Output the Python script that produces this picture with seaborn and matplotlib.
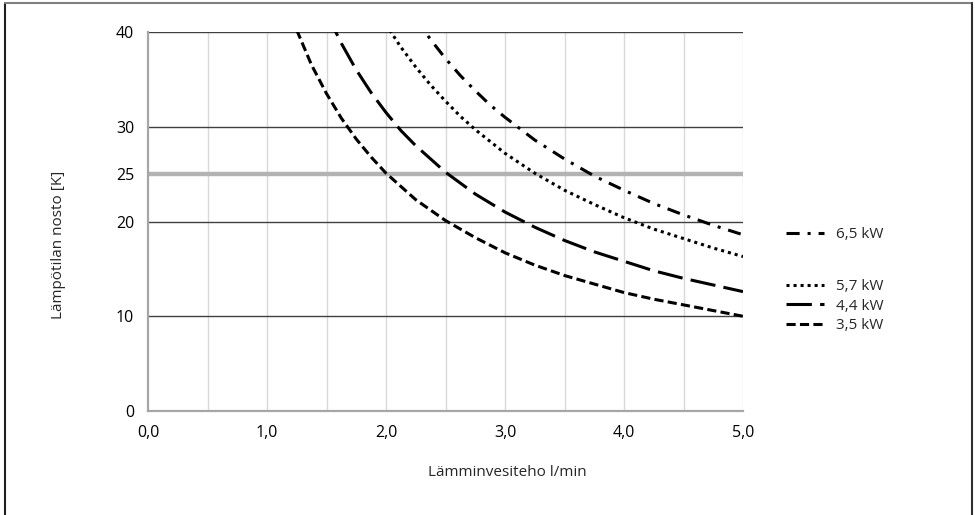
import matplotlib
matplotlib.use("Agg")
import matplotlib.pyplot as plt
from matplotlib.lines import Line2D
import seaborn as sns

# Lämpötilan nosto [K] luettuna kuvasta eri virtaamilla (l/min)
flow_35 = [1.25, 1.375, 1.5, 1.625, 1.75, 1.875, 2.0, 2.25, 2.5, 2.75, 3.0, 3.25, 3.5, 3.75, 4.0, 4.25, 4.5, 4.75, 5.0]
rise_35 = [40.2, 36.5, 33.5, 30.9, 28.7, 26.8, 25.1, 22.3, 20.1, 18.3, 16.7, 15.4, 14.3, 13.4, 12.5, 11.8, 11.2, 10.6, 10.0]

flow_44 = [1.5, 1.625, 1.75, 1.875, 2.0, 2.125, 2.25, 2.5, 2.75, 3.0, 3.25, 3.5, 3.75, 4.0, 4.25, 4.5, 4.75, 5.0]
rise_44 = [42.0, 38.8, 36.0, 33.6, 31.5, 29.6, 28.0, 25.2, 22.9, 21.0, 19.4, 18.0, 16.8, 15.8, 14.8, 14.0, 13.3, 12.6]

flow_57 = [2.0, 2.125, 2.25, 2.375, 2.5, 2.625, 2.75, 3.0, 3.25, 3.5, 3.75, 4.0, 4.25, 4.5, 4.75, 5.0]
rise_57 = [40.8, 38.4, 36.3, 34.4, 32.7, 31.1, 29.7, 27.2, 25.1, 23.3, 21.8, 20.4, 19.2, 18.2, 17.2, 16.3]

flow_65 = [2.25, 2.375, 2.5, 2.625, 2.75, 2.875, 3.0, 3.25, 3.5, 3.75, 4.0, 4.25, 4.5, 4.75, 5.0]
rise_65 = [41.4, 39.2, 37.2, 35.4, 33.8, 32.3, 31.0, 28.6, 26.6, 24.8, 23.3, 21.9, 20.7, 19.6, 18.6]

x_ticks = [0, 1, 2, 3, 4, 5]
x_ticklabels = ["0,0", "1,0", "2,0", "3,0", "4,0", "5,0"]
x_grid = [0.5, 1.0, 1.5, 2.0, 2.5, 3.0, 3.5, 4.0, 4.5, 5.0]
y_ticks = [0, 10, 20, 25, 30, 40]
grid_levels = [10, 20, 30, 40]
limit_level = 25

sns.set_style("white")
plt.rcParams["font.family"] = ["Open Sans", "DejaVu Sans"]
FS_TICK = 11.5
FS = 11

fig = plt.figure(figsize=(9.75, 5.15), dpi=100)
ax = fig.add_axes([148 / 975, 1 - 411 / 515, 595 / 975, 379 / 515])

# ruudukko
for xv in x_grid:
    ax.axvline(xv, color="#d9d9d9", lw=1.0, zorder=0)
for yv in grid_levels:
    ax.axhline(yv, color="#404040", lw=1.0, zorder=1)
ax.axhline(limit_level, color="#b3b3b3", lw=3.2, zorder=1)

series = [
    (flow_65, rise_65, "6,5 kW", (0, (4.3, 2.6, 1, 2.6))),
    (flow_57, rise_57, "5,7 kW", (0, (1, 1.3))),
    (flow_44, rise_44, "4,4 kW", (0, (8.3, 2.7))),
    (flow_35, rise_35, "3,5 kW", (0, (3, 1.4))),
]
handles = []
for fx, ry, lab, ls in series:
    sns.lineplot(x=fx, y=ry, ax=ax, color="black", lw=2.2, linestyle=ls, zorder=3)
    handles.append(Line2D([], [], color="black", lw=2.2, linestyle=ls, label=lab))

ax.set_xlim(0, 5)
ax.set_ylim(0, 40)
ax.set_xticks(x_ticks)
ax.set_xticklabels(x_ticklabels)
ax.set_yticks(y_ticks)
ax.set_yticklabels([str(v) for v in y_ticks])
ax.tick_params(axis="both", labelsize=FS_TICK, colors="#a6a6a6", labelcolor="black",
               length=5, width=1, direction="out")
ax.tick_params(axis="x", pad=5)
ax.tick_params(axis="y", pad=5)
for side in ["top", "right"]:
    ax.spines[side].set_visible(False)
for side in ["left", "bottom"]:
    ax.spines[side].set_color("#a6a6a6")
    ax.spines[side].set_linewidth(1.6)

fig.text(58 / 975, 1 - 245 / 515, "Lämpötilan nosto [K]", rotation=90,
         ha="center", va="center", fontsize=FS)
fig.text(428 / 975, 1 - 473 / 515, "Lämminvesiteho l/min",
         ha="left", va="center", fontsize=FS)

leg_opts = dict(loc="center left", frameon=False, fontsize=FS, handlelength=2.5,
                handletextpad=0.75, borderaxespad=0, borderpad=0)
fig.legend(handles=handles[:1], bbox_to_anchor=(786 / 975, 1 - 235 / 515), **leg_opts)
fig.legend(handles=handles[1:], bbox_to_anchor=(786 / 975, 1 - 306 / 515),
           labelspacing=0.3, **leg_opts)

# kehys
fig.add_artist(Line2D([5 / 975, 5 / 975], [0, 1 - 3 / 515], color="#202020", lw=1.5, transform=fig.transFigure))
fig.add_artist(Line2D([5 / 975, 972 / 975], [1 - 3 / 515, 1 - 3 / 515], color="#808080", lw=1.5, transform=fig.transFigure))
fig.add_artist(Line2D([972 / 975, 972 / 975], [0, 1 - 3 / 515], color="#303030", lw=1.5, transform=fig.transFigure))

fig.savefig("out.png", dpi=100)
